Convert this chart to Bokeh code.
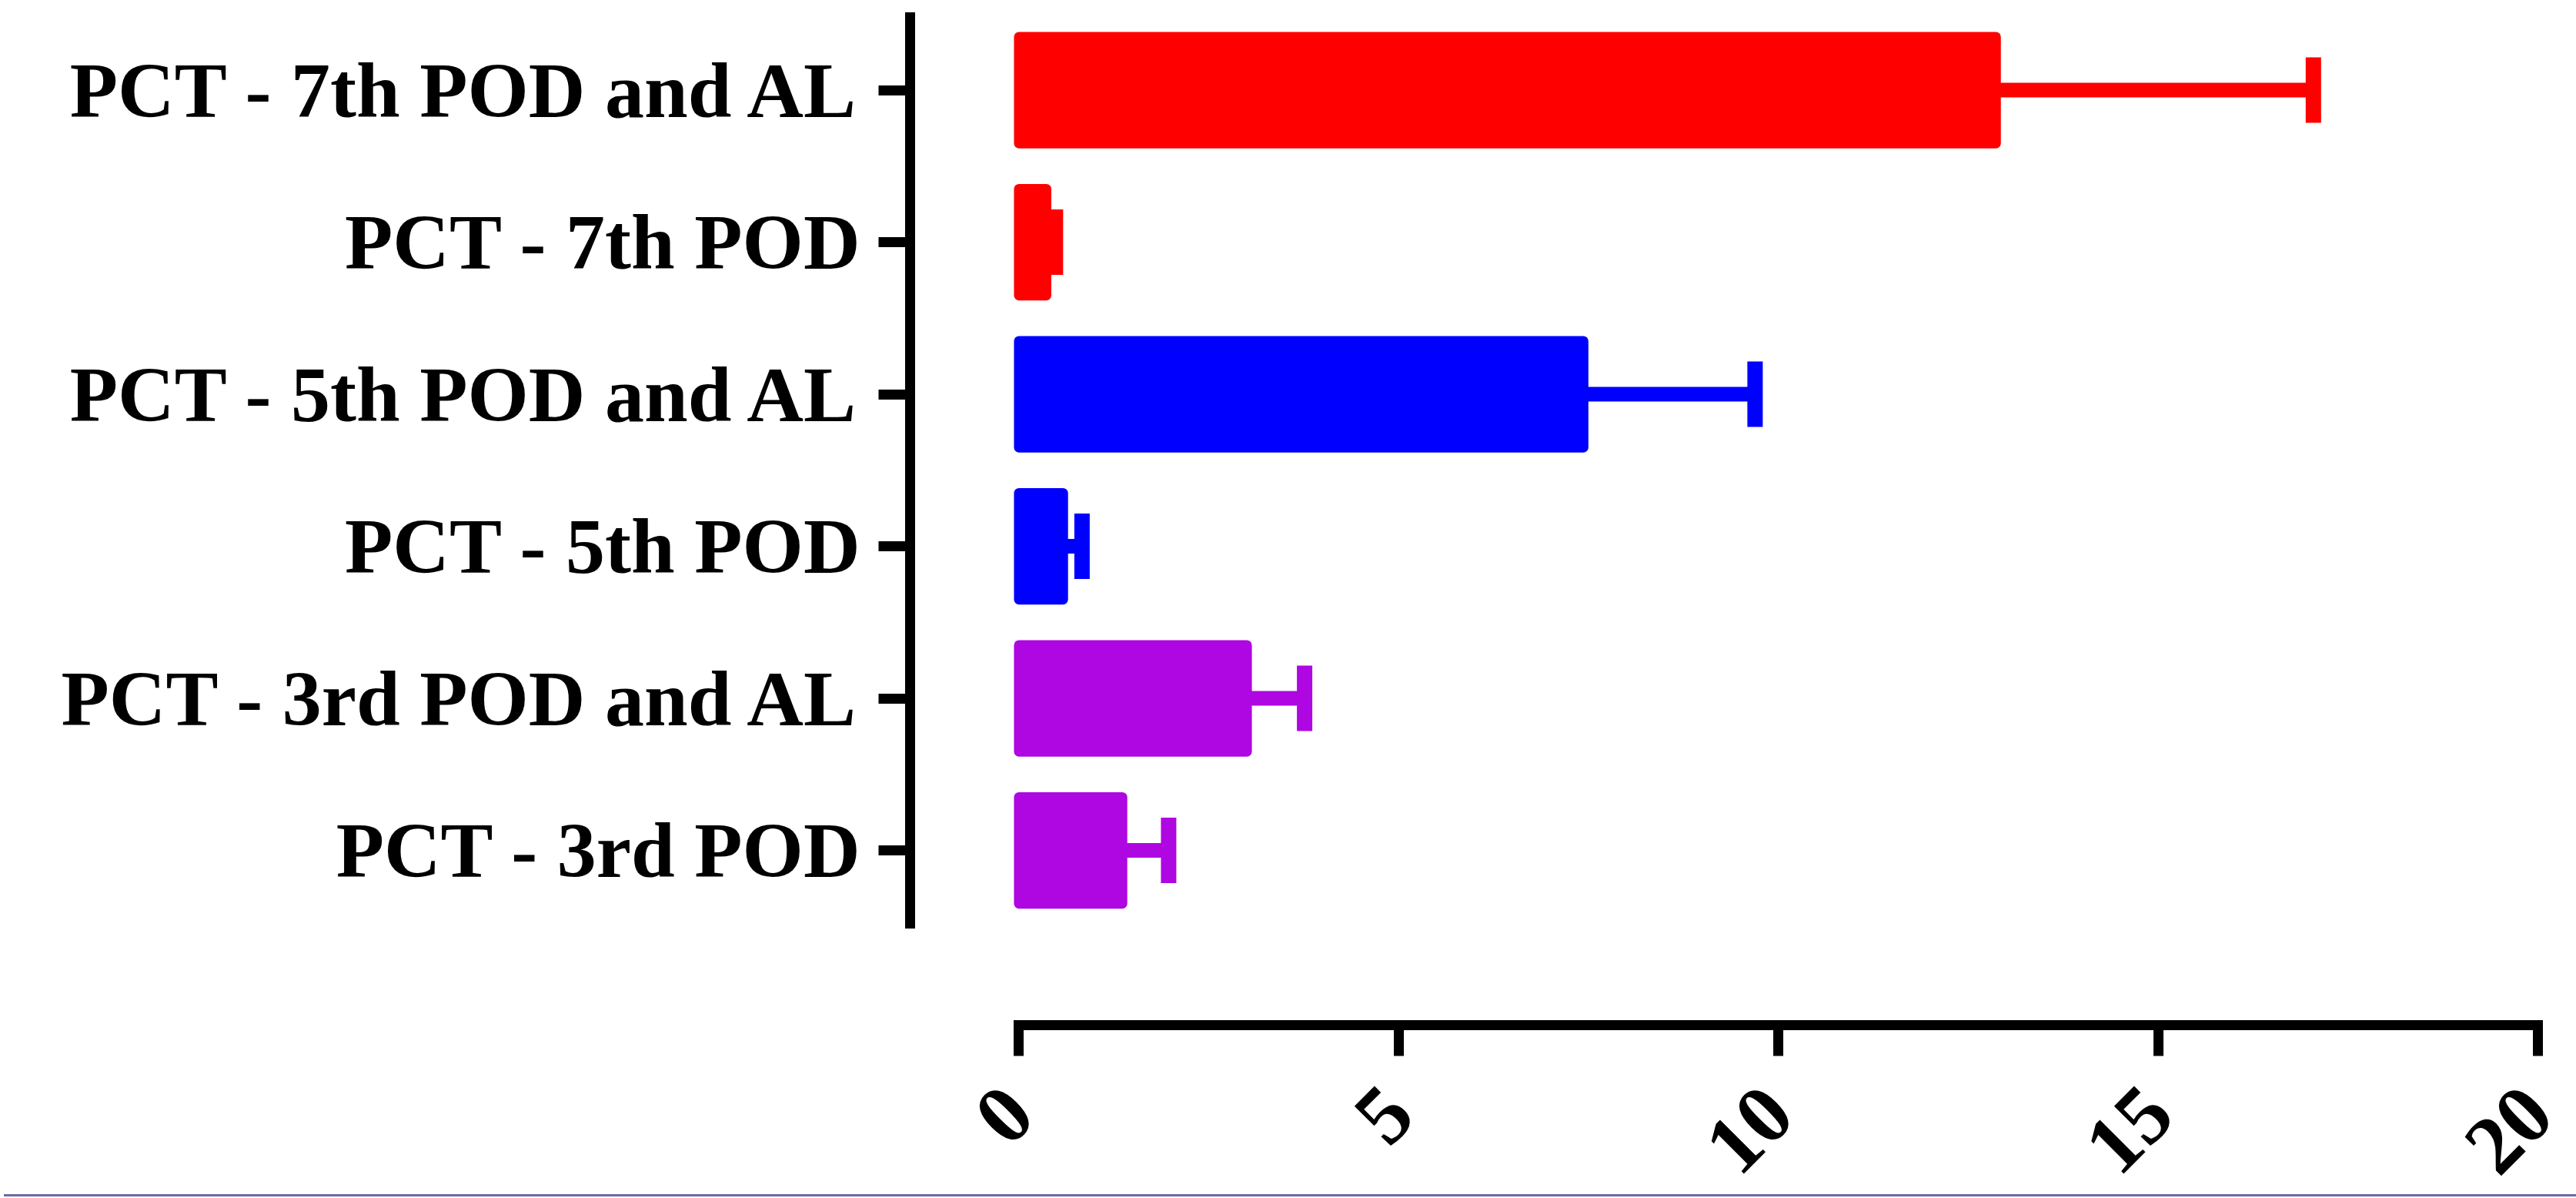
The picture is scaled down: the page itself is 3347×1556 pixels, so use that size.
import math
from bokeh.plotting import figure
from bokeh.layouts import column
from bokeh.models import (Range1d, LinearAxis, FixedTicker, ColumnDataSource, Div)
from bokeh.core.properties import value
from bokeh.embed import file_html
from bokeh.resources import INLINE

# ---- data ----
categories = ["PCT - 3rd POD", "PCT - 3rd POD and AL",
              "PCT - 5th POD", "PCT - 5th POD and AL",
              "PCT - 7th POD", "PCT - 7th POD and AL"]
means = [1.36, 3.00, 0.58, 7.43, 0.36, 12.86]
errors = [0.61, 0.76, 0.25, 2.26, 0.12, 4.18]
colors = ["#AE07E2", "#AE07E2", "#0000FF", "#0000FF", "#FF0000", "#FF0000"]
x_ticks = [0, 5, 10, 15, 20]

ypos = list(range(len(categories)))
upper = [m + e for m, e in zip(means, errors)]
source = ColumnDataSource(dict(y=ypos, mean=means, upper=upper, color=colors, label=categories))

W, H = 3347, 1546
YAXIS_LOC = -1.434
p = figure(width=W, height=H, x_range=Range1d(-13.409, 20.502), y_range=Range1d(-2.238, 5.590),
           x_axis_type=None, y_axis_type=None, toolbar_location=None, output_backend="svg",
           min_border=0)
p.outline_line_color = None
p.background_fill_color = "white"
p.border_fill_color = "white"

font = "Liberation Serif"

# error bars
p.segment(x0="mean", y0="y", x1="upper", y1="y", line_width=19, line_color="color", source=source)
p.rect(x="upper", y="y", width=20, height=85, width_units="screen", height_units="screen",
       fill_color="color", line_color=None, source=source)
# bars
p.hbar(y="y", left=0, right="mean", height=0.70, fill_color="color", line_color="color",
       line_width=13, line_join="round", source=source)

# category labels next to the y-axis ticks
p.text(x=YAXIS_LOC, y="y", text="label", source=source, x_offset=-63,
       text_align="right", text_baseline="middle", text_color="black",
       text_font=value(font), text_font_style="bold", text_font_size="102px")

yaxis = LinearAxis(fixed_location=YAXIS_LOC, bounds=(-0.48, 5.48), ticker=FixedTicker(ticks=ypos))
yaxis.axis_line_width = 13
yaxis.axis_line_cap = "square"
yaxis.major_tick_line_width = 13
yaxis.major_tick_out = 41
yaxis.major_tick_in = 0
yaxis.minor_tick_out = 0
yaxis.minor_tick_in = 0
yaxis.major_label_text_font_size = "1px"
yaxis.major_label_text_alpha = 0
p.add_layout(yaxis, "left")

xaxis = LinearAxis(fixed_location=-1.147, bounds=(0, 20), ticker=FixedTicker(ticks=x_ticks))
xaxis.axis_line_width = 13
xaxis.axis_line_cap = "square"
xaxis.major_tick_line_width = 13
xaxis.major_tick_out = 40
xaxis.major_tick_in = 0
xaxis.minor_tick_out = 0
xaxis.minor_tick_in = 0
xaxis.major_label_orientation = math.pi / 4
xaxis.major_label_text_font = font
xaxis.major_label_text_font_style = "bold"
xaxis.major_label_text_font_size = "108px"
xaxis.major_label_text_color = "black"
xaxis.major_label_standoff = 58
p.add_layout(xaxis, "below")

rule = Div(text="", width=W, height=3, styles={"background-color": "#6B6BA8"})

layout = column(p, rule, spacing=0)
open("out.html", "w").write(file_html(layout, INLINE))
